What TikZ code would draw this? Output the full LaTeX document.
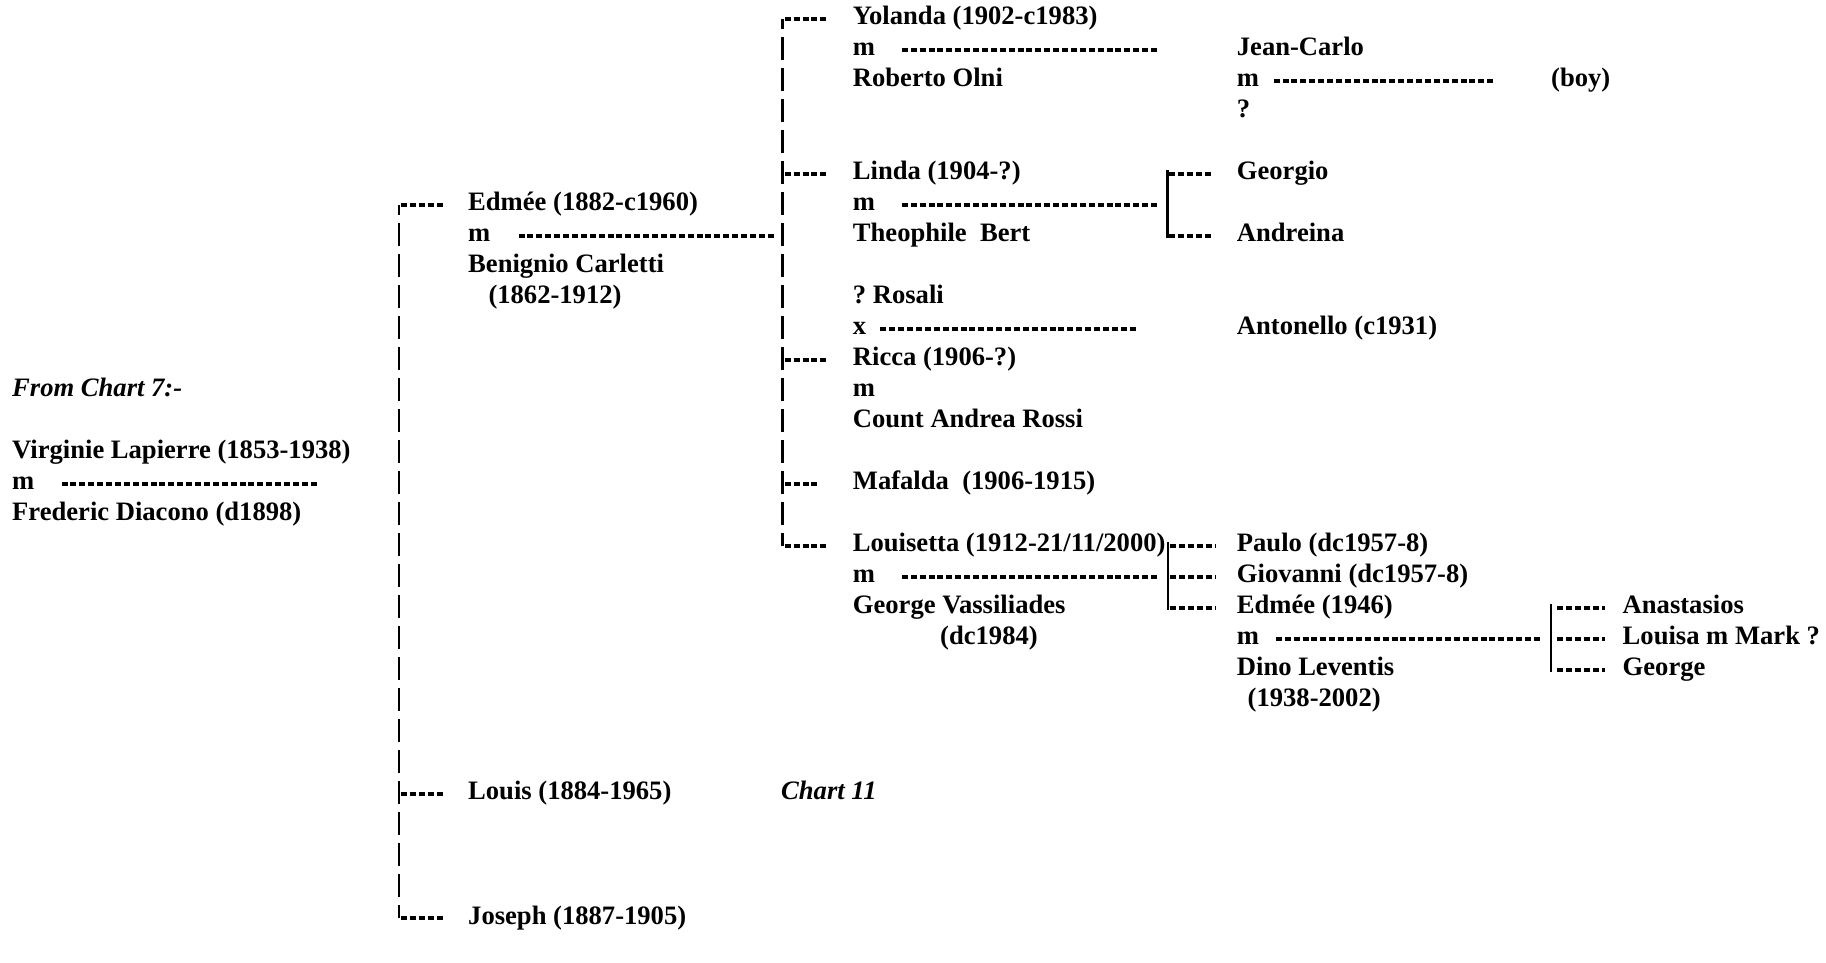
\documentclass[tikz,border=0pt]{standalone}
\usepackage{fontspec}
\setmainfont{Liberation Serif}
\usetikzlibrary{calc}

\begin{document}
\begin{tikzpicture}[x=1pt, y=-31pt,
    every node/.style={anchor=base west, inner sep=0pt, text height=18pt, text depth=6pt,
      font=\fontsize{26.6pt}{31pt}\selectfont\bfseries},
    ital/.style={font=\fontsize{26.6pt}{31pt}\selectfont\bfseries\itshape},
    hyph/.style={line width=3.4pt, dash pattern=on 6pt off 2.9pt},
    kid/.style={hyph, shorten <=2pt},
    bar/.style={line width=2.8pt, dash pattern=on 23pt off 8pt, dash phase=13pt},
    minibar/.style={line width=2.4pt}]
		%%%%% START %%%%%
		\useasboundingbox (0,-0.806) rectangle (1826,30.258);
		
		\node[ital] (fromchart) at (12,12) {From Chart 7:-};
		\node (virginie) at (12,14) {Virginie Lapierre (1853-1938)};
		\node (vm) at (12,15) {m};
		\node (frederic) at (12,16) {Frederic Diacono (d1898)};
		\coordinate (vend) at ([xshift=306pt]vm.west);
		\draw[hyph] ([xshift=27pt]vm.east) -- (vend);
		
		\coordinate (bar1) at (399,0);
		\node (edmee) at (468,6) {Edmée (1882-c1960)};
		\node (em) at (468,7) {m};
		\node (benignio) at (468,8) {Benignio Carletti};
		\node (benyears) at (488.3,9) {(1862-1912)};
		\node (louis) at (468,25) {Louis (1884-1965)};
		\node[ital] (chart11) at (781,25) {Chart 11};
		\node (joseph) at (468,29) {Joseph (1887-1905)};
		\draw[bar] (bar1 |- edmee.west) -- (bar1 |- joseph.west);
		\draw[kid] (bar1 |- edmee.west) -- ([xshift=-23pt]edmee.west);
		\draw[kid] (bar1 |- louis.west) -- ([xshift=-23pt]louis.west);
		\draw[kid] (bar1 |- joseph.west) -- ([xshift=-23pt]joseph.west);
		
		\coordinate (bar2) at (782.7,0);
		\draw[hyph] ([xshift=28pt]em.east) -- ($(bar2 |- em.west)+(-7.7pt,0)$);
		\node (yolanda) at (852.7,0) {Yolanda (1902-c1983)};
		\node (ym) at (852.7,1) {m};
		\node (roberto) at (852.7,2) {Roberto Olni};
		\node (linda) at (852.7,5) {Linda (1904-?)};
		\node (lm) at (852.7,6) {m};
		\node (theophile) at (852.7,7) {Theophile\ \ Bert};
		\node (rosali) at (852.7,9) {?\ Rosali};
		\node (rx) at (852.7,10) {x};
		\node (ricca) at (852.7,11) {Ricca (1906-?)};
		\node (rm) at (852.7,12) {m};
		\node (rossi) at (852.7,13) {Count Andrea Rossi};
		\node (mafalda) at (852.7,15) {Mafalda\ \ (1906-1915)};
		\node (louisetta) at (852.7,17) {Louisetta (1912-21/11/2000)};
		\node (lsm) at (852.7,18) {m};
		\node (george) at (852.7,19) {George Vassiliades};
		\node (georgeyrs) at (940,20) {(dc1984)};
		\draw[bar] (bar2 |- yolanda.west) -- (bar2 |- louisetta.west);
		\draw[kid] (bar2 |- yolanda.west) -- ([xshift=-24pt]yolanda.west);
		\draw[kid] (bar2 |- linda.west) -- ([xshift=-24pt]linda.west);
		\draw[kid] (bar2 |- ricca.west) -- ([xshift=-24pt]ricca.west);
		\draw[kid] (bar2 |- mafalda.west) -- ([xshift=-32.7pt]mafalda.west);
		\draw[kid] (bar2 |- louisetta.west) -- ([xshift=-24pt]louisetta.west);
		
		\node (jeancarlo) at (1236.7,1) {Jean-Carlo};
		\node (jm) at (1236.7,2) {m};
		\node (jwife) at (1236.7,3) {?};
		\node (boy) at (1551,2) {(boy)};
		\draw[hyph] ([xshift=26.6pt]ym.east) -- ([xshift=-77.7pt]jeancarlo.west);
		\draw[hyph] ([xshift=14.4pt]jm.east) -- ([xshift=-55.5pt]boy.west);
		
		\coordinate (bar3) at (1167.3,0);
		\node (georgio) at (1236.7,5) {Georgio};
		\node (andreina) at (1236.7,7) {Andreina};
		\draw[hyph] ([xshift=26.6pt]lm.east) -- ($(bar3 |- lm.west)+(-8pt,0)$);
		\draw[minibar] ($(bar3 |- georgio.west)+(0,4pt)$) -- ($(bar3 |- andreina.west)+(0,-2pt)$);
		\draw[kid] (bar3 |- georgio.west) -- ([xshift=-23.7pt]georgio.west);
		\draw[kid] (bar3 |- andreina.west) -- ([xshift=-23.7pt]andreina.west);
		
		\node (antonello) at (1236.7,10) {Antonello (c1931)};
		\draw[hyph] ([xshift=14pt]rx.east) -- ([xshift=-100pt]antonello.west);
		
		\coordinate (bar4) at (1168,0);
		\node (paulo) at (1236.7,17) {Paulo (dc1957-8)};
		\node (giovanni) at (1236.7,18) {Giovanni (dc1957-8)};
		\node (edmeeb) at (1236.7,19) {Edmée (1946)};
		\node (ebm) at (1236.7,20) {m};
		\node (dino) at (1236.7,21) {Dino Leventis};
		\node (dinoyrs) at (1247.5,22) {(1938-2002)};
		\draw[hyph] ([xshift=26.6pt]lsm.east) -- ($(bar4 |- lsm.west)+(-9pt,0)$);
		\draw[minibar] ($(bar4 |- paulo.west)+(0,4pt)$) -- ($(bar4 |- edmeeb.west)+(0,-2pt)$);
		\draw[kid] (bar4 |- paulo.west) -- ([xshift=-21pt]paulo.west);
		\draw[kid] (bar4 |- giovanni.west) -- ([xshift=-21pt]giovanni.west);
		\draw[kid] (bar4 |- edmeeb.west) -- ([xshift=-21pt]edmeeb.west);
		
		\coordinate (bar5) at (1551,0);
		\node (anastasios) at (1622.5,19) {Anastasios};
		\node (louisa) at (1622.5,20) {Louisa m Mark ?};
		\node (georgec) at (1622.5,21) {George};
		\draw[hyph] ([xshift=16.6pt]ebm.east) -- ($(bar5 |- ebm.west)+(-9pt,0)$);
		\draw[minibar] ($(bar5 |- anastasios.west)+(0,4pt)$) -- ($(bar5 |- georgec.west)+(0,-2pt)$);
		\draw[hyph, shorten <=6pt] (bar5 |- anastasios.west) -- ([xshift=-17.5pt]anastasios.west);
		\draw[hyph, shorten <=6pt] (bar5 |- louisa.west) -- ([xshift=-17.5pt]louisa.west);
		\draw[hyph, shorten <=6pt] (bar5 |- georgec.west) -- ([xshift=-17.5pt]georgec.west);
		
		%%%%% END %%%%%
	\end{tikzpicture}
\end{document}
